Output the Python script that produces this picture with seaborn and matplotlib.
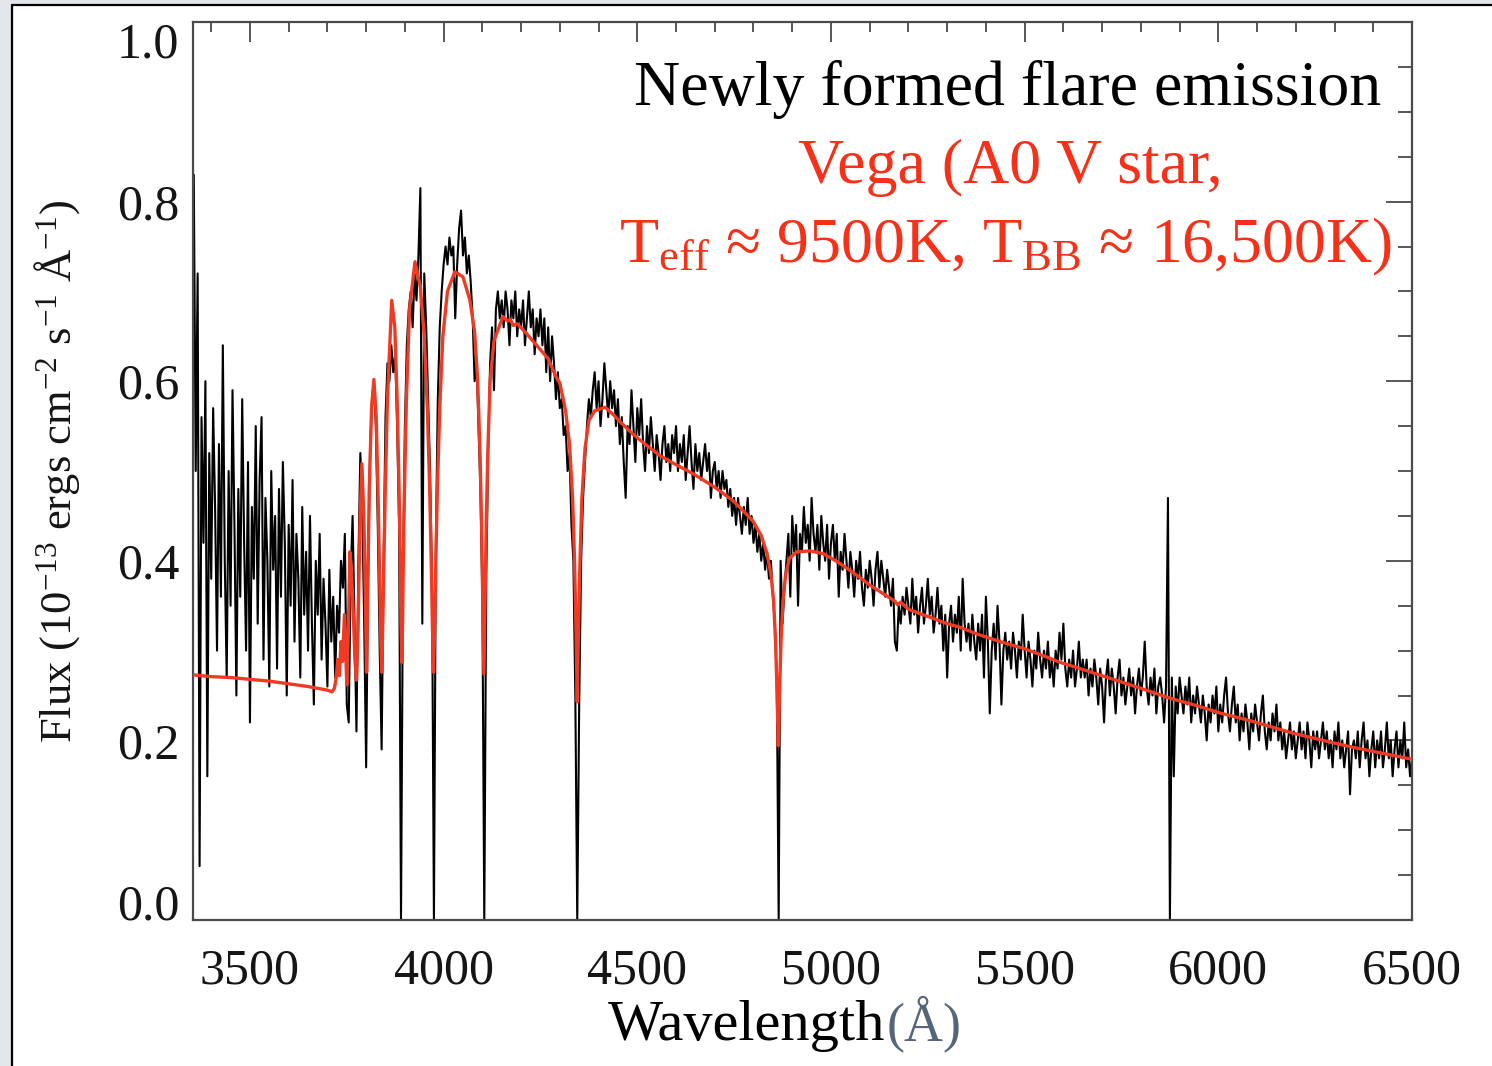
import numpy as np
import pandas as pd
import matplotlib
matplotlib.use("Agg")
import matplotlib.pyplot as plt
import seaborn as sns
from matplotlib.ticker import MultipleLocator
from matplotlib.patches import Rectangle
from matplotlib.lines import Line2D

# ---------------- data ----------------
# observed flare spectrum (black), sampled every 5 A starting at 3355 A
black_start = 3355
black_step = 5
black_flux = [
    0.83, 0.50, 0.72, 0.06, 0.56, 0.42, 0.60, 0.16, 0.52, 0.38, 0.57, 0.46, 0.30, 0.53, 0.36, 0.64, 0.40, 0.27, 0.50, 0.35,
    0.59, 0.44, 0.25, 0.48, 0.36, 0.58, 0.42, 0.30, 0.51, 0.22, 0.46, 0.38, 0.55, 0.33, 0.49, 0.56, 0.29, 0.47, 0.40, 0.26,
    0.50, 0.39, 0.45, 0.28, 0.48, 0.36, 0.51, 0.42, 0.25, 0.44, 0.35, 0.49, 0.31, 0.43, 0.38, 0.27, 0.46, 0.34, 0.41, 0.30,
    0.45, 0.33, 0.24, 0.40, 0.34, 0.43, 0.29, 0.38, 0.33, 0.26, 0.39, 0.31, 0.36, 0.27, 0.35, 0.32, 0.40, 0.37, 0.43, 0.24,
    0.22, 0.38, 0.45, 0.33, 0.21, 0.40, 0.52, 0.46, 0.33, 0.17, 0.38, 0.52, 0.58, 0.60, 0.55, 0.44, 0.30, 0.19, 0.40, 0.56,
    0.62, 0.60, 0.64, 0.61, 0.63, 0.55, 0.44, 0.00, 0.38, 0.55, 0.64, 0.68, 0.70, 0.66, 0.72, 0.69, 0.74, 0.815, 0.33, 0.72,
    0.66, 0.58, 0.50, 0.38, 0.00, 0.42, 0.58, 0.66, 0.70, 0.73, 0.75, 0.73, 0.76, 0.74, 0.75, 0.67, 0.73, 0.77, 0.79, 0.74,
    0.76, 0.72, 0.74, 0.71, 0.67, 0.60, 0.62, 0.55, 0.48, 0.36, 0.00, 0.38, 0.52, 0.62, 0.66, 0.59, 0.68, 0.70, 0.67, 0.69,
    0.66, 0.70, 0.68, 0.64, 0.69, 0.67, 0.70, 0.65, 0.68, 0.66, 0.69, 0.64, 0.67, 0.70, 0.66, 0.68, 0.63, 0.67, 0.65, 0.68,
    0.64, 0.67, 0.61, 0.66, 0.60, 0.65, 0.62, 0.58, 0.61, 0.57, 0.58, 0.54, 0.55, 0.50, 0.52, 0.44, 0.40, 0.25, 0.00, 0.24,
    0.40, 0.47, 0.51, 0.55, 0.58, 0.56, 0.59, 0.61, 0.57, 0.60, 0.55, 0.58, 0.62, 0.59, 0.56, 0.60, 0.57, 0.59, 0.55, 0.58,
    0.53, 0.56, 0.51, 0.47, 0.55, 0.53, 0.59, 0.55, 0.51, 0.57, 0.54, 0.58, 0.53, 0.50, 0.55, 0.52, 0.56, 0.53, 0.50, 0.54,
    0.52, 0.49, 0.53, 0.55, 0.51, 0.53, 0.50, 0.54, 0.52, 0.55, 0.50, 0.53, 0.51, 0.54, 0.49, 0.52, 0.55, 0.51, 0.48, 0.53,
    0.50, 0.52, 0.49, 0.51, 0.53, 0.50, 0.52, 0.47, 0.50, 0.51, 0.48, 0.50, 0.47, 0.50, 0.48, 0.49, 0.46, 0.48, 0.45, 0.47,
    0.44, 0.47, 0.45, 0.43, 0.46, 0.44, 0.47, 0.43, 0.45, 0.42, 0.44, 0.41, 0.43, 0.40, 0.42, 0.39, 0.41, 0.38, 0.40, 0.36,
    0.33, 0.27, 0.00, 0.40, 0.33, 0.37, 0.40, 0.43, 0.36, 0.45, 0.41, 0.44, 0.35, 0.43, 0.41, 0.46, 0.42, 0.44, 0.40, 0.47,
    0.43, 0.41, 0.44, 0.39, 0.45, 0.42, 0.40, 0.44, 0.38, 0.42, 0.44, 0.40, 0.43, 0.36, 0.41, 0.39, 0.43, 0.40, 0.37, 0.41,
    0.39, 0.36, 0.40, 0.38, 0.41, 0.37, 0.35, 0.39, 0.37, 0.40, 0.38, 0.35, 0.39, 0.41, 0.37, 0.40, 0.38, 0.36, 0.39, 0.37,
    0.35, 0.38, 0.31, 0.30, 0.35, 0.33, 0.36, 0.34, 0.37, 0.35, 0.33, 0.38, 0.34, 0.36, 0.32, 0.35, 0.37, 0.33, 0.35, 0.38,
    0.34, 0.36, 0.32, 0.34, 0.37, 0.33, 0.35, 0.30, 0.34, 0.27, 0.33, 0.35, 0.31, 0.34, 0.32, 0.36, 0.30, 0.38, 0.33, 0.31,
    0.33, 0.30, 0.34, 0.31, 0.29, 0.33, 0.30, 0.34, 0.27, 0.36, 0.31, 0.23, 0.30, 0.33, 0.29, 0.35, 0.31, 0.24, 0.30, 0.32,
    0.29, 0.31, 0.28, 0.32, 0.30, 0.27, 0.31, 0.29, 0.34, 0.30, 0.27, 0.31, 0.29, 0.26, 0.30, 0.28, 0.32, 0.29, 0.27, 0.30,
    0.28, 0.31, 0.27, 0.29, 0.26, 0.30, 0.28, 0.32, 0.29, 0.33, 0.28, 0.26, 0.29, 0.27, 0.30, 0.26, 0.28, 0.31, 0.27, 0.29,
    0.27, 0.29, 0.25, 0.28, 0.26, 0.29, 0.27, 0.24, 0.28, 0.26, 0.22, 0.27, 0.29, 0.25, 0.28, 0.26, 0.23, 0.27, 0.29, 0.25,
    0.27, 0.24, 0.26, 0.28, 0.25, 0.27, 0.23, 0.26, 0.28, 0.25, 0.27, 0.31, 0.26, 0.24, 0.27, 0.25, 0.28, 0.23, 0.26, 0.27,
    0.25, 0.22, 0.26, 0.47, 0.00, 0.27, 0.16, 0.26, 0.23, 0.27, 0.25, 0.23, 0.26, 0.24, 0.27, 0.22, 0.25, 0.23, 0.26, 0.24,
    0.22, 0.25, 0.23, 0.20, 0.24, 0.22, 0.25, 0.23, 0.26, 0.21, 0.24, 0.22, 0.25, 0.27, 0.23, 0.21, 0.24, 0.26, 0.22, 0.24,
    0.20, 0.23, 0.21, 0.24, 0.22, 0.19, 0.23, 0.21, 0.24, 0.22, 0.20, 0.23, 0.25, 0.21, 0.19, 0.22, 0.20, 0.23, 0.21, 0.24,
    0.20, 0.22, 0.19, 0.21, 0.18, 0.20, 0.22, 0.19, 0.21, 0.18, 0.20, 0.22, 0.19, 0.21, 0.18, 0.22, 0.20, 0.17, 0.21, 0.19,
    0.21, 0.18, 0.20, 0.22, 0.19, 0.21, 0.18, 0.20, 0.17, 0.21, 0.19, 0.22, 0.18, 0.20, 0.17, 0.19, 0.21, 0.14, 0.19, 0.20,
    0.18, 0.21, 0.17, 0.20, 0.22, 0.18, 0.20, 0.16, 0.19, 0.21, 0.17, 0.20, 0.18, 0.21, 0.17, 0.19, 0.22, 0.18, 0.20, 0.16,
    0.19, 0.21, 0.17, 0.20, 0.18, 0.22, 0.17, 0.19, 0.16, 0.18,
]

# Vega model spectrum (red)
red_wl = [
    3353, 3400, 3450, 3500, 3550, 3600, 3650, 3700, 3712, 3718, 3722, 3727, 3731, 3735, 3739, 3744,
    3750, 3754, 3758, 3762, 3767, 3771, 3775, 3779, 3784, 3789, 3794, 3798, 3801, 3804, 3808, 3814,
    3820, 3826, 3831, 3835, 3838, 3840, 3842, 3845, 3849, 3855, 3866, 3874, 3880, 3885, 3888, 3890,
    3892, 3894, 3896, 3899, 3904, 3912, 3926, 3940, 3950, 3958, 3964, 3968, 3971, 3974, 3977, 3980,
    3984, 3990, 3998, 4010, 4029, 4050, 4068, 4080, 4088, 4094, 4098, 4101, 4104, 4107, 4110, 4114,
    4120, 4130, 4153, 4165, 4172, 4180, 4190, 4210, 4240, 4270, 4290, 4300, 4315, 4325, 4333, 4338,
    4342, 4345, 4348, 4352, 4357, 4365, 4375, 4390, 4417, 4440, 4460, 4489, 4520, 4559, 4600, 4644,
    4700, 4747, 4775, 4799, 4820, 4835, 4845, 4852, 4857, 4861, 4864, 4867, 4871, 4876, 4883, 4893,
    4912, 4946, 4980, 5020, 5060, 5100, 5140, 5165, 5172, 5180, 5200, 5250, 5300, 5333, 5380, 5437,
    5500, 5550, 5591, 5643, 5700, 5750, 5800, 5875, 5950, 6000, 6082, 6193, 6280, 6340, 6420, 6500,
]
red_flux = [
    0.273, 0.271, 0.270, 0.268, 0.266, 0.263, 0.260, 0.256, 0.254, 0.258, 0.268, 0.290, 0.272, 0.310, 0.288, 0.340,
    0.262, 0.320, 0.410, 0.390, 0.340, 0.290, 0.267, 0.320, 0.440, 0.508, 0.450, 0.360, 0.276, 0.360, 0.480, 0.570,
    0.602, 0.560, 0.470, 0.380, 0.310, 0.276, 0.310, 0.380, 0.470, 0.580, 0.690, 0.660, 0.580, 0.480, 0.400, 0.330,
    0.287, 0.330, 0.400, 0.480, 0.580, 0.680, 0.733, 0.705, 0.650, 0.570, 0.480, 0.400, 0.330, 0.276, 0.330, 0.400,
    0.480, 0.570, 0.650, 0.700, 0.722, 0.716, 0.690, 0.655, 0.600, 0.520, 0.440, 0.360, 0.274, 0.360, 0.440, 0.520,
    0.600, 0.645, 0.672, 0.667, 0.669, 0.662, 0.664, 0.655, 0.640, 0.625, 0.605, 0.598, 0.567, 0.530, 0.470, 0.400,
    0.320, 0.243, 0.320, 0.400, 0.470, 0.525, 0.556, 0.567, 0.571, 0.562, 0.553, 0.541, 0.530, 0.517, 0.507, 0.497,
    0.482, 0.467, 0.455, 0.444, 0.428, 0.408, 0.385, 0.355, 0.310, 0.250, 0.194, 0.250, 0.310, 0.355, 0.385, 0.403,
    0.410, 0.411, 0.408, 0.398, 0.386, 0.373, 0.362, 0.355, 0.351, 0.354, 0.346, 0.338, 0.330, 0.326, 0.318, 0.310,
    0.302, 0.294, 0.287, 0.280, 0.272, 0.265, 0.258, 0.247, 0.238, 0.231, 0.222, 0.208, 0.199, 0.193, 0.186, 0.179,
]

x_ticks = [3500, 4000, 4500, 5000, 5500, 6000, 6500]
x_tick_labels = ["3500", "4000", "4500", "5000", "5500", "6000", "6500"]
y_ticks = [0.0, 0.2, 0.4, 0.6, 0.8, 1.0]
y_tick_labels = ["0.0", "0.2", "0.4", "0.6", "0.8", "1.0"]

assert len(black_flux) == 630, len(black_flux)
assert len(red_wl) == len(red_flux), (len(red_wl), len(red_flux))

black_wl = black_start + black_step * np.arange(len(black_flux))
df_black = pd.DataFrame({"wavelength": black_wl, "flux": black_flux})
df_red = pd.DataFrame({"wavelength": red_wl, "flux": red_flux})

# ---------------- style ----------------
sns.set_theme(style="white")
plt.rcParams["font.family"] = ["Liberation Serif", "DejaVu Serif"]
plt.rcParams["mathtext.fontset"] = "custom"
plt.rcParams["mathtext.rm"] = "Liberation Serif"
plt.rcParams["mathtext.it"] = "Liberation Serif:italic"
plt.rcParams["mathtext.bf"] = "Liberation Serif:bold"

W, H = 1492, 1066
fig = plt.figure(figsize=(W / 100, H / 100), dpi=100)
fig.patch.set_facecolor("#e3e7ec")
fig.add_artist(Rectangle((12 / W, 0), 1 - 12 / W, 1 - 5 / H, transform=fig.transFigure,
                         facecolor="white", edgecolor="none", zorder=0))
fig.add_artist(Line2D([12 / W, 12 / W], [0, 1 - 5 / H], transform=fig.transFigure, color="black", lw=1.6))
fig.add_artist(Line2D([12 / W, 1], [1 - 5 / H, 1 - 5 / H], transform=fig.transFigure, color="black", lw=1.6))

ax = fig.add_axes([193 / W, 1 - 920 / H, (1412 - 193) / W, (920 - 22) / H])
ax.set_facecolor("white")

sns.lineplot(data=df_black, x="wavelength", y="flux", ax=ax, color="black", lw=1.5,
             sort=False, estimator=None, zorder=2)
sns.lineplot(data=df_red, x="wavelength", y="flux", ax=ax, color="#ef3b24", lw=2.4,
             sort=False, estimator=None, zorder=3)

ax.set_xlim(3353, 6500)
ax.set_ylim(0.0, 1.0)
ax.set_xticks(x_ticks)
ax.set_xticklabels(x_tick_labels)
ax.set_yticks(y_ticks)
ax.set_yticklabels(y_tick_labels)
ax.xaxis.set_minor_locator(MultipleLocator(100))
ax.yaxis.set_minor_locator(MultipleLocator(0.05))

for s in ax.spines.values():
    s.set_color("#4a4a4a")
    s.set_linewidth(1.6)

ax.tick_params(which="both", direction="in", top=True, right=True, color="#4a4a4a", width=1.3,
               labelcolor="#151515", labelsize=36)
ax.tick_params(axis="x", which="major", length=14.5, pad=20)
ax.tick_params(axis="x", which="minor", length=7)
ax.tick_params(axis="y", which="major", length=19, pad=10)
ax.tick_params(axis="y", which="minor", length=10)

ylabels = ax.get_yticklabels()
ylabels[-1].set_va("top")
ylabels[0].set_va("baseline")

ax.set_xlabel("")
ax.set_ylabel("")

# axis titles
fig.text(57 / W, 1 - 472 / H, r"Flux (10$^{-13}$ ergs cm$^{-2}$ s$^{-1}$ Å$^{-1}$)",
         rotation=90, ha="center", va="center", fontsize=32, color="#151515")
fig.text(885 / W, 1 - 1040 / H, "Wavelength", ha="right", va="baseline", fontsize=42, color="black")
fig.text(887 / W, 1 - 1040 / H, "(Å)", ha="left", va="baseline", fontsize=39, color="#55657a")

# annotations
fig.text(1008 / W, 1 - 105 / H, "Newly formed flare emission", ha="center", va="baseline",
         fontsize=46, color="black")
fig.text(1010 / W, 1 - 183 / H, "Vega (A0 V star,", ha="center", va="baseline",
         fontsize=46, color="#f5311a")
fig.text(1006 / W, 1 - 262 / H, r"T$_{\rm eff}$ ≈ 9500K, T$_{\rm BB}$ ≈ 16,500K)", ha="center",
         va="baseline", fontsize=46, color="#f5311a")

fig.savefig("out.png", dpi=100, facecolor=fig.get_facecolor())
